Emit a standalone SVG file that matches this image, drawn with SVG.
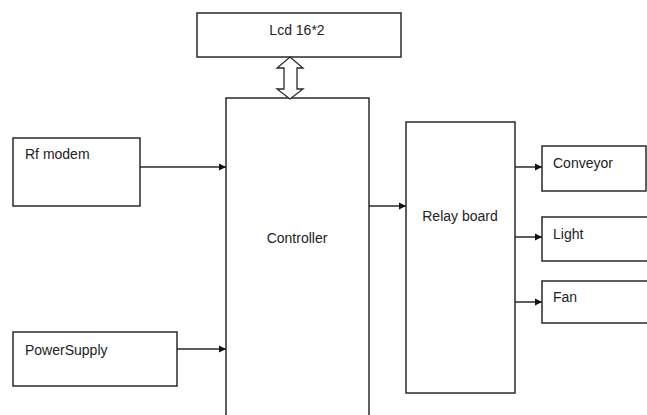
<svg xmlns="http://www.w3.org/2000/svg" width="647" height="415" viewBox="0 0 647 415">
<defs>
<style>
.box{fill:#fff;stroke:#2a2a2a;stroke-width:1.5}
.lbl{font-family:"Liberation Sans",Arial,sans-serif;font-size:14px;fill:#222}
.con{stroke:#2a2a2a;stroke-width:1.5;fill:none}
</style>
<marker id="ah" markerWidth="8" markerHeight="8" refX="7" refY="4" orient="auto" markerUnits="userSpaceOnUse">
<path d="M0,0.5 L7,4 L0,7.5 Z" fill="#111"/>
</marker>
</defs>
<rect width="647" height="415" fill="#fff"/>
<g id="lcd">
<rect class="box" x="197" y="13" width="204" height="44"/>
<text class="lbl" x="297" y="35" text-anchor="middle">Lcd 16*2</text>
</g>
<g id="controller">
<rect class="box" x="226" y="98" width="143" height="330"/>
<text class="lbl" x="297" y="243" text-anchor="middle">Controller</text>
</g>
<g id="rfmodem">
<rect class="box" x="13" y="138" width="127" height="68"/>
<text class="lbl" x="25" y="159">Rf modem</text>
</g>
<g id="powersupply">
<rect class="box" x="13" y="332" width="164" height="54"/>
<text class="lbl" x="25" y="355">PowerSupply</text>
</g>
<g id="relayboard">
<rect class="box" x="406" y="122" width="109" height="271"/>
<text class="lbl" x="460" y="221" text-anchor="middle">Relay board</text>
</g>
<g id="conveyor">
<rect class="box" x="542" y="146" width="104" height="45"/>
<text class="lbl" x="553" y="168">Conveyor</text>
</g>
<g id="light">
<rect class="box" x="542" y="217" width="120" height="44"/>
<text class="lbl" x="553" y="239">Light</text>
</g>
<g id="fan">
<rect class="box" x="542" y="281" width="120" height="42"/>
<text class="lbl" x="553" y="302">Fan</text>
</g>
<g id="connectors">
<path d="M290,57 L303,68 L297,68 L297,89 L303,89 L290,99 L277,89 L284,89 L284,68 L277,68 Z" fill="#fff" stroke="#2a2a2a" stroke-width="1.3" stroke-linejoin="miter"/>
<line class="con" x1="140" y1="167" x2="226" y2="167" marker-end="url(#ah)"/>
<line class="con" x1="177" y1="349" x2="226" y2="349" marker-end="url(#ah)"/>
<line class="con" x1="369" y1="206" x2="406" y2="206" marker-end="url(#ah)"/>
<line class="con" x1="515" y1="167" x2="542" y2="167" marker-end="url(#ah)"/>
<line class="con" x1="515" y1="237" x2="542" y2="237" marker-end="url(#ah)"/>
<line class="con" x1="515" y1="302" x2="542" y2="302" marker-end="url(#ah)"/>
</g>
</svg>
